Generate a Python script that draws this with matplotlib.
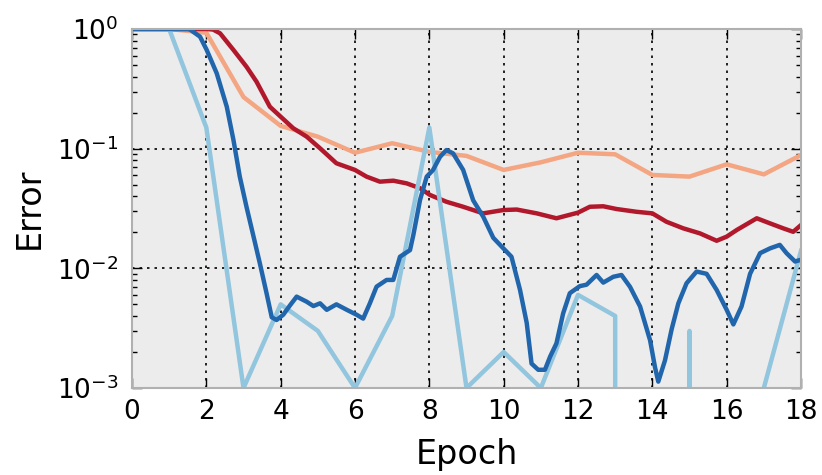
import numpy as np
import matplotlib
matplotlib.use("Agg")
import matplotlib.pyplot as plt

# light blue: error per epoch (0 = nothing left, drops off the log axis)
lb_epoch = list(range(19))
lb_err = [1.0, 1.0, 0.15, 0.001, 0.005, 0.003, 0.001, 0.004, 0.15, 0.001,
          0.002, 0.001, 0.006, 0.004, 0.0, 0.003, 0.0, 0.001, 0.014]

# salmon: error per epoch
sa_epoch = list(range(19))
sa_err = [1.0, 1.0, 0.93, 0.27, 0.155, 0.126, 0.0925, 0.111, 0.094, 0.087,
          0.0664, 0.0769, 0.0925, 0.0897, 0.0603, 0.0584, 0.074, 0.061, 0.0885]

# dark red: running error
dr_epoch = [0, 1, 2, 2.18, 2.37, 2.73, 3.08, 3.35, 3.71, 4.0, 4.34, 4.7, 5.06,
            5.5, 6.0, 6.31, 6.67, 7.03, 7.39, 7.75, 8.02, 8.46, 8.91, 9.45,
            9.99, 10.35, 10.89, 11.42, 12.0, 12.32, 12.68, 13.04, 13.57, 14.0,
            14.38, 14.83, 15.28, 15.73, 16.0, 16.27, 16.81, 17.16, 17.52,
            17.79, 18.0]
dr_err = [1.0, 1.0, 1.0, 0.99, 0.92, 0.668, 0.484, 0.363, 0.224, 0.185, 0.148,
          0.126, 0.1007, 0.0755, 0.0664, 0.0584, 0.053, 0.054, 0.0513, 0.0467,
          0.041, 0.036, 0.0327, 0.0288, 0.0307, 0.031, 0.0288, 0.0262, 0.0292,
          0.0327, 0.033, 0.0313, 0.0297, 0.0288, 0.0245, 0.0216, 0.0196,
          0.017, 0.0184, 0.0209, 0.0262, 0.0238, 0.0216, 0.0202, 0.023]

# dark blue: running error
db_epoch = [0, 1, 1.5, 1.56, 1.83, 2.01, 2.28, 2.55, 2.73, 2.9, 3.08, 3.26,
            3.44, 3.62, 3.76, 3.89, 4.07, 4.25, 4.43, 4.7, 4.88, 5.06, 5.24,
            5.5, 5.78, 6.04, 6.22, 6.4, 6.58, 6.85, 7.03, 7.21, 7.48, 7.57,
            7.75, 7.93, 8.1, 8.29, 8.46, 8.64, 8.91, 9.18, 9.45, 9.72, 9.99,
            10.21, 10.44, 10.62, 10.75, 10.93, 11.11, 11.25, 11.42, 11.6,
            11.78, 12.05, 12.23, 12.5, 12.68, 12.95, 13.17, 13.4, 13.67,
            13.94, 14.07, 14.16, 14.34, 14.52, 14.7, 14.92, 15.19, 15.46,
            15.73, 16.0, 16.18, 16.4, 16.63, 16.9, 17.17, 17.43, 17.61, 17.84,
            18.0]
db_err = [1.0, 1.0, 1.0, 0.99, 0.863, 0.668, 0.426, 0.224, 0.118, 0.0584,
          0.0327, 0.019, 0.011, 0.0062, 0.0039, 0.0037, 0.0041, 0.0049, 0.0058,
          0.00526, 0.00484, 0.0051, 0.0045, 0.005, 0.0045, 0.0041, 0.0038,
          0.0051, 0.00703, 0.008, 0.008, 0.0125, 0.0142, 0.019, 0.0373, 0.0584,
          0.0664, 0.0857, 0.0974, 0.0913, 0.0664, 0.037, 0.027, 0.018, 0.0147,
          0.0125, 0.0066, 0.0035, 0.0016, 0.00142, 0.00142, 0.00183, 0.00236,
          0.0042, 0.0062, 0.0071, 0.0073, 0.0088, 0.0076, 0.0085, 0.0088,
          0.007, 0.0048, 0.0025, 0.0015, 0.00113, 0.0017, 0.0031, 0.0051,
          0.0075, 0.0094, 0.009, 0.0066, 0.0045, 0.0034, 0.0048, 0.009,
          0.0134, 0.0147, 0.0157, 0.0134, 0.0114, 0.0118]

fig = plt.figure(figsize=(8.22, 4.75), dpi=100)
ax = fig.add_axes([132 / 822, 87 / 475, 669 / 822, 359 / 475])
ax.set_facecolor('#ececec')

ax.plot(sa_epoch, sa_err, color='#f4a582', lw=3.2)
ax.plot(dr_epoch, dr_err, color='#b2182b', lw=3.2)
ax.plot(lb_epoch, lb_err, color='#92c5de', lw=3.2)
ax.plot(db_epoch, db_err, color='#2166ac', lw=3.2)

ax.set_yscale('log')
ax.set_ylim(1e-3, 1)
ax.set_xlim(0, 18)
ax.set_xticks(range(0, 19, 2))

ax.grid(True, which='major', color='black', ls=(0, (1.5, 3)), lw=1.2)
ax.tick_params(which='both', direction='in', top=True, right=True,
               labelsize=19, pad=8)
ax.tick_params(axis='y', pad=10)
ax.tick_params(which='major', length=7, width=1)
ax.tick_params(which='minor', length=3.5, width=1)
for sp in ax.spines.values():
    sp.set_color('#b0b0b0')
    sp.set_linewidth(1.5)

ax.set_xlabel('Epoch', fontsize=24, labelpad=9)
ax.set_ylabel('Error', fontsize=24, labelpad=8)

fig.savefig('out.png', dpi=100)
